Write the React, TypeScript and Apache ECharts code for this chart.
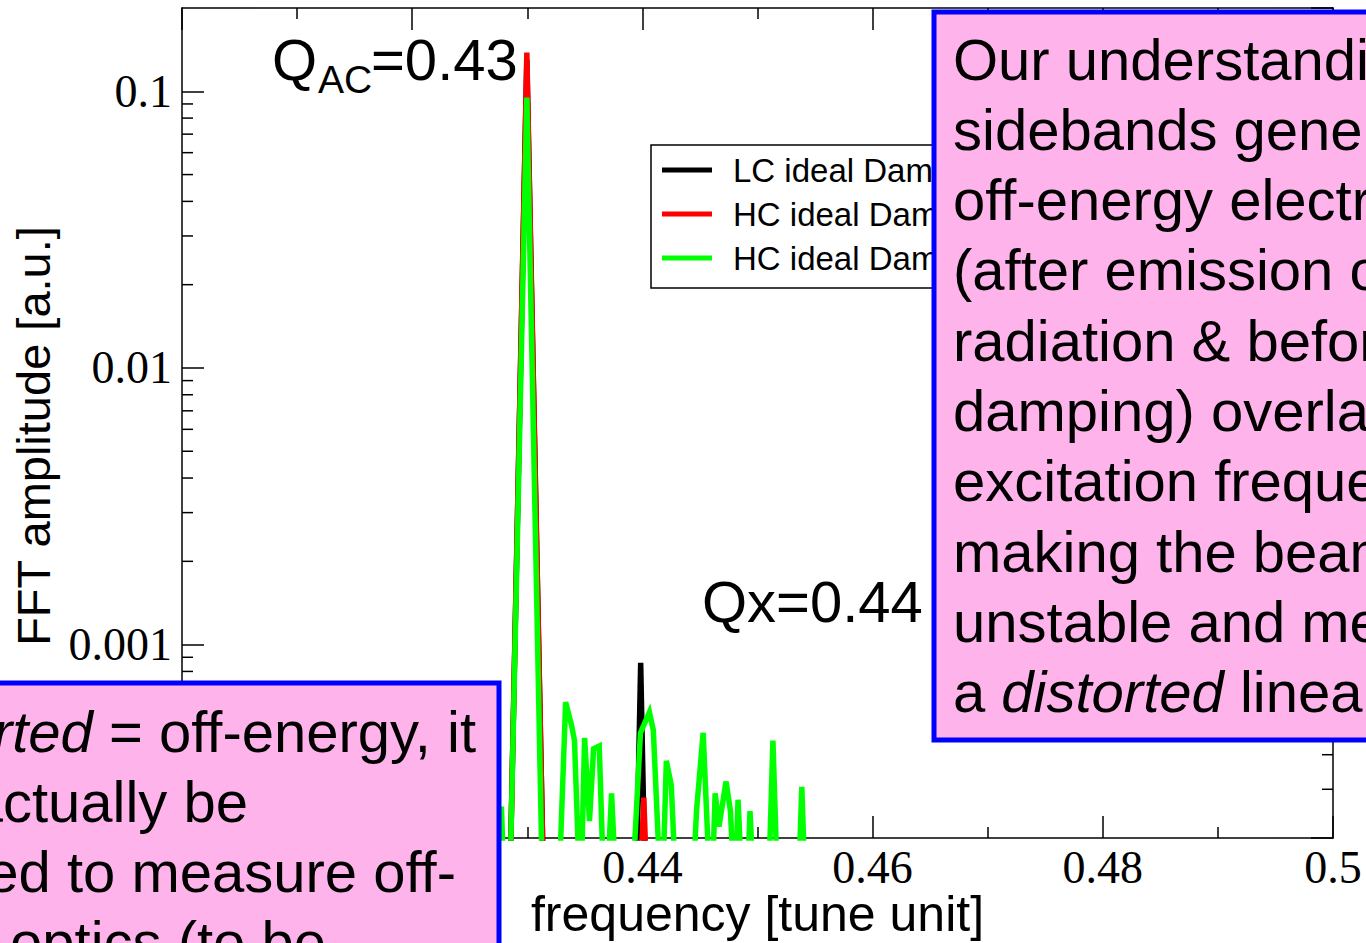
import React, { useEffect, useRef } from 'react';
import * as echarts from 'echarts';

// ---- axis ranges ----
const X_MIN = 0.4;
const X_MAX = 0.5;
const X_INTERVAL = 0.02;
const Y_MIN = 0.0002;
const Y_MAX = 0.2;
const xLabelsShown = [0.44, 0.46, 0.48, 0.5];
const yMajorTicks = [0.001, 0.01, 0.1];
const yMinorTicks = [
  0.0003, 0.0004, 0.0005, 0.0006, 0.0007, 0.0008, 0.0009,
  0.002, 0.003, 0.004, 0.005, 0.006, 0.007, 0.008, 0.009,
  0.02, 0.03, 0.04, 0.05, 0.06, 0.07, 0.08, 0.09,
];

// ---- series ----
const seriesNames = ['LC ideal Damping', 'HC ideal Damping', 'HC ideal Damping, off-energy'];
const seriesColors = ['#000000', '#ff0000', '#00ff00'];

// LC ideal damping (black)
const lcFreq = [0.427, 0.4285, 0.42996, 0.4314, 0.433, 0.4394, 0.43985, 0.4403, 0.442, 0.46];
const lcAmp = [0.0001, 0.00014, 0.13, 0.00014, 0.0001, 0.0001, 0.00086, 0.0001, 0.0001, 0.0001];

// HC ideal damping (red)
const hcFreq = [0.427, 0.4285, 0.42996, 0.4314, 0.433, 0.4397, 0.44012, 0.4405, 0.442, 0.46];
const hcAmp = [0.0001, 0.00014, 0.138, 0.00014, 0.0001, 0.0001, 0.00028, 0.0001, 0.0001, 0.0001];

// HC ideal damping, off-energy (green)
const offFreq = [
  0.427, 0.42775, 0.4281, 0.4285, 0.42996, 0.4313,
  0.4328, 0.43333, 0.43385, 0.4341, 0.4345,
  0.4347, 0.43498, 0.4354, 0.43576, 0.43625, 0.4366,
  0.437, 0.43732, 0.43765,
  0.4392, 0.43983, 0.44061, 0.44095, 0.4415,
  0.4418, 0.44208, 0.44251, 0.44285,
  0.44445, 0.4447, 0.44528, 0.4458,
  0.4461, 0.44632, 0.44665, 0.44727, 0.44765, 0.4479,
  0.4481, 0.44831, 0.4486,
  0.44915, 0.44935, 0.4496,
  0.451, 0.45134, 0.4517,
  0.4536, 0.45385, 0.4541, 0.46,
];
const offAmp = [
  0.0001, 0.00026, 0.0001, 0.00014, 0.095, 0.00014,
  0.00015, 0.00062, 0.00051, 0.00045, 0.00015,
  0.00015, 0.00046, 0.00023, 0.00042, 0.00043, 0.00015,
  0.00015, 0.00029, 0.00015,
  0.00015, 0.00048, 0.00057, 0.00049, 0.00015,
  0.00015, 0.00038, 0.00031, 0.00015,
  0.00015, 0.00025, 0.00048, 0.00015,
  0.00015, 0.00029, 0.00022, 0.00032, 0.00025, 0.00015,
  0.00015, 0.000275, 0.00015,
  0.00015, 0.00025, 0.00015,
  0.00015, 0.00045, 0.00015,
  0.00015, 0.000306, 0.00015, 0.0001,
];

// ---- annotation texts ----
const qacMain = 'Q';
const qacSub = 'AC';
const qacValue = '=0.43';
const qxLabel = 'Qx=0.44';
const noteRightLines = [
  'Our understanding:',
  'sidebands generated by',
  'off-energy electrons',
  '(after emission of',
  'radiation & before',
  'damping) overlap the',
  'excitation frequency,',
  'making the beam',
  'unstable and measuring',
  'a {i|distorted} linear optics',
];
const noteLeftLines = [
  'If {i|distorted} = off-energy, it',
  'could actually be',
  'used to measure off-',
  'energy optics (to be',
];

const SANS = 'Liberation Sans, Arial, Helvetica, sans-serif';
const SERIF = 'Liberation Serif, Times New Roman, serif';
const PINK = '#ffb3eb';
const BLUE = '#0000ff';

function pairs(f: number[], a: number[]) {
  return f.map((x, i) => [x, a[i]]);
}

export default function App() {
  const ref = useRef<HTMLDivElement>(null);

  useEffect(() => {
    if (!ref.current) return;
    const chart = echarts.init(ref.current, undefined, { renderer: 'svg' });

    const noteFont = 58;
    const rich = { i: { fontStyle: 'italic', fontSize: noteFont, fontFamily: SANS, fill: '#000' } } as any;

    const rightTexts = noteRightLines.map((t, i) => ({
      type: 'text',
      z: 101,
      x: 953,
      y: 59 + i * 70.3,
      style: {
        text: t,
        rich,
        fontFamily: SANS,
        fontSize: noteFont,
        fill: '#000',
        align: 'left',
        verticalAlign: 'middle',
      },
    }));
    const leftEnds = [476, 248, 456, 326];
    const leftTexts = noteLeftLines.map((t, i) => ({
      type: 'text',
      z: 101,
      x: leftEnds[i],
      y: 731 + i * 70,
      style: {
        text: t,
        rich,
        fontFamily: SANS,
        fontSize: noteFont,
        fill: '#000',
        align: 'right',
        verticalAlign: 'middle',
      },
    }));

    const axisLineStyle = { color: '#000', width: 1.5 };

    const xCommon = {
      type: 'value',
      min: X_MIN,
      max: X_MAX,
      interval: X_INTERVAL,
      axisLine: { show: true, onZero: false, lineStyle: axisLineStyle },
      axisTick: { show: true, inside: true, length: 22, lineStyle: axisLineStyle },
      minorTick: { show: true, splitNumber: 2, length: 11, lineStyle: axisLineStyle },
      splitLine: { show: false },
      minorSplitLine: { show: false },
    };

    const xLabelFormatter = (v: number) => {
      const hit = xLabelsShown.find((t) => Math.abs(t - v) < 1e-9);
      return hit !== undefined ? String(hit) : '';
    };
    const yLabelFormatter = (v: number) => {
      const hit = yMajorTicks.find((t) => Math.abs(t - v) / t < 1e-6);
      return hit !== undefined ? String(hit) : '';
    };

    const yCommon = {
      type: 'log',
      logBase: 10,
      min: Y_MIN,
      max: Y_MAX,
      axisLine: { show: true, onZero: false, lineStyle: axisLineStyle },
      axisTick: { show: true, inside: true, length: 22, lineStyle: axisLineStyle },
      splitLine: { show: false },
      minorTick: { show: false },
    };

    const option: any = {
      animation: false,
      backgroundColor: '#ffffff',
      grid: { left: 182, right: 33, top: 8, bottom: 105, containLabel: false, outerBoundsMode: 'none' },
      legend: {
        data: seriesNames,
        orient: 'vertical',
        left: 651,
        top: 145,
        align: 'left',
        padding: [8, 10, 13, 11],
        itemGap: 10,
        itemWidth: 50,
        itemHeight: 5,
        icon: 'rect',
        backgroundColor: '#ffffff',
        borderColor: '#000000',
        borderWidth: 1.5,
        borderRadius: 0,
        selectedMode: false,
        z: 5,
        textStyle: {
          fontFamily: SANS,
          fontSize: 33,
          color: '#000',
          lineHeight: 34,
          padding: [0, 0, 0, 16],
        },
      },
      xAxis: [
        {
          ...xCommon,
          position: 'bottom',
          axisLabel: { show: true, fontFamily: SERIF, fontSize: 46, color: '#000', margin: 6, formatter: xLabelFormatter },
          name: 'frequency [tune unit]',
          nameLocation: 'middle',
          nameGap: 51,
          nameMoveOverlap: false,
          nameTextStyle: { fontFamily: SANS, fontSize: 50, color: '#000' },
        },
        {
          ...xCommon,
          position: 'top',
          axisLabel: { show: false },
        },
      ],
      yAxis: [
        {
          ...yCommon,
          position: 'left',
          axisLabel: {
            show: true,
            fontFamily: SERIF,
            fontSize: 46,
            color: '#000',
            margin: 10,
            formatter: yLabelFormatter,
            showMinLabel: false,
            showMaxLabel: false,
          },
          name: 'FFT amplitude [a.u.]',
          nameLocation: 'middle',
          nameGap: 125,
          nameMoveOverlap: false,
          nameRotate: 90,
          nameTextStyle: { fontFamily: SANS, fontSize: 47, color: '#000', padding: [0, 26, 0, 0] },
        },
        {
          ...yCommon,
          position: 'right',
          axisLabel: { show: false },
        },
      ],
      series: [
        ...[pairs(lcFreq, lcAmp), pairs(hcFreq, hcAmp), pairs(offFreq, offAmp)].map((d, i) => ({
          type: 'line',
          name: seriesNames[i],
          xAxisIndex: 0,
          yAxisIndex: 0,
          data: d,
          showSymbol: false,
          symbol: 'none',
          clip: true,
          color: seriesColors[i],
          itemStyle: { color: seriesColors[i] },
          lineStyle: { color: seriesColors[i], width: 5.5, join: 'miter' },
          emphasis: { disabled: true },
          z: 2,
        })),
        {
          type: 'custom',
          name: 'y minor ticks',
          xAxisIndex: 0,
          yAxisIndex: 0,
          clip: false,
          silent: true,
          z: 3,
          data: yMinorTicks.map((v) => [X_MIN, v]),
          renderItem: (params: any, api: any) => {
            const v = api.value(1);
            const l = api.coord([X_MIN, v]);
            const r = api.coord([X_MAX, v]);
            return {
              type: 'group',
              children: [
                { type: 'line', shape: { x1: l[0], y1: l[1], x2: l[0] + 11, y2: l[1] }, style: { stroke: '#000', lineWidth: 1.5 } },
                { type: 'line', shape: { x1: r[0] - 11, y1: r[1], x2: r[0], y2: r[1] }, style: { stroke: '#000', lineWidth: 1.5 } },
              ],
            };
          },
        },
      ],
      graphic: {
        elements: [
          {
            type: 'text', z: 101, x: 272, y: 59,
            style: { text: qacMain, fontFamily: SANS, fontSize: 58, fill: '#000', align: 'left', verticalAlign: 'middle' },
          },
          {
            type: 'text', z: 101, x: 318, y: 79,
            style: { text: qacSub, fontFamily: SANS, fontSize: 39, fill: '#000', align: 'left', verticalAlign: 'middle' },
          },
          {
            type: 'text', z: 101, x: 371, y: 59,
            style: { text: qacValue, fontFamily: SANS, fontSize: 58, fill: '#000', align: 'left', verticalAlign: 'middle' },
          },
          {
            type: 'text', z: 101, x: 702, y: 601,
            style: { text: qxLabel, fontFamily: SANS, fontSize: 58, fill: '#000', align: 'left', verticalAlign: 'middle' },
          },
          {
            type: 'rect', z: 100,
            shape: { x: 934, y: 12, width: 500, height: 728 },
            style: { fill: PINK, stroke: BLUE, lineWidth: 5 },
          },
          {
            type: 'rect', z: 100,
            shape: { x: -20, y: 683, width: 519, height: 300 },
            style: { fill: PINK, stroke: BLUE, lineWidth: 5 },
          },
          ...rightTexts,
          ...leftTexts,
        ],
      },
    };

    chart.setOption(option);
    return () => chart.dispose();
  }, []);

  return (
    <div
      ref={ref}
      style={{ position: 'absolute', left: 0, top: 0, width: 1366, height: 943, background: '#fff' }}
    />
  );
}
